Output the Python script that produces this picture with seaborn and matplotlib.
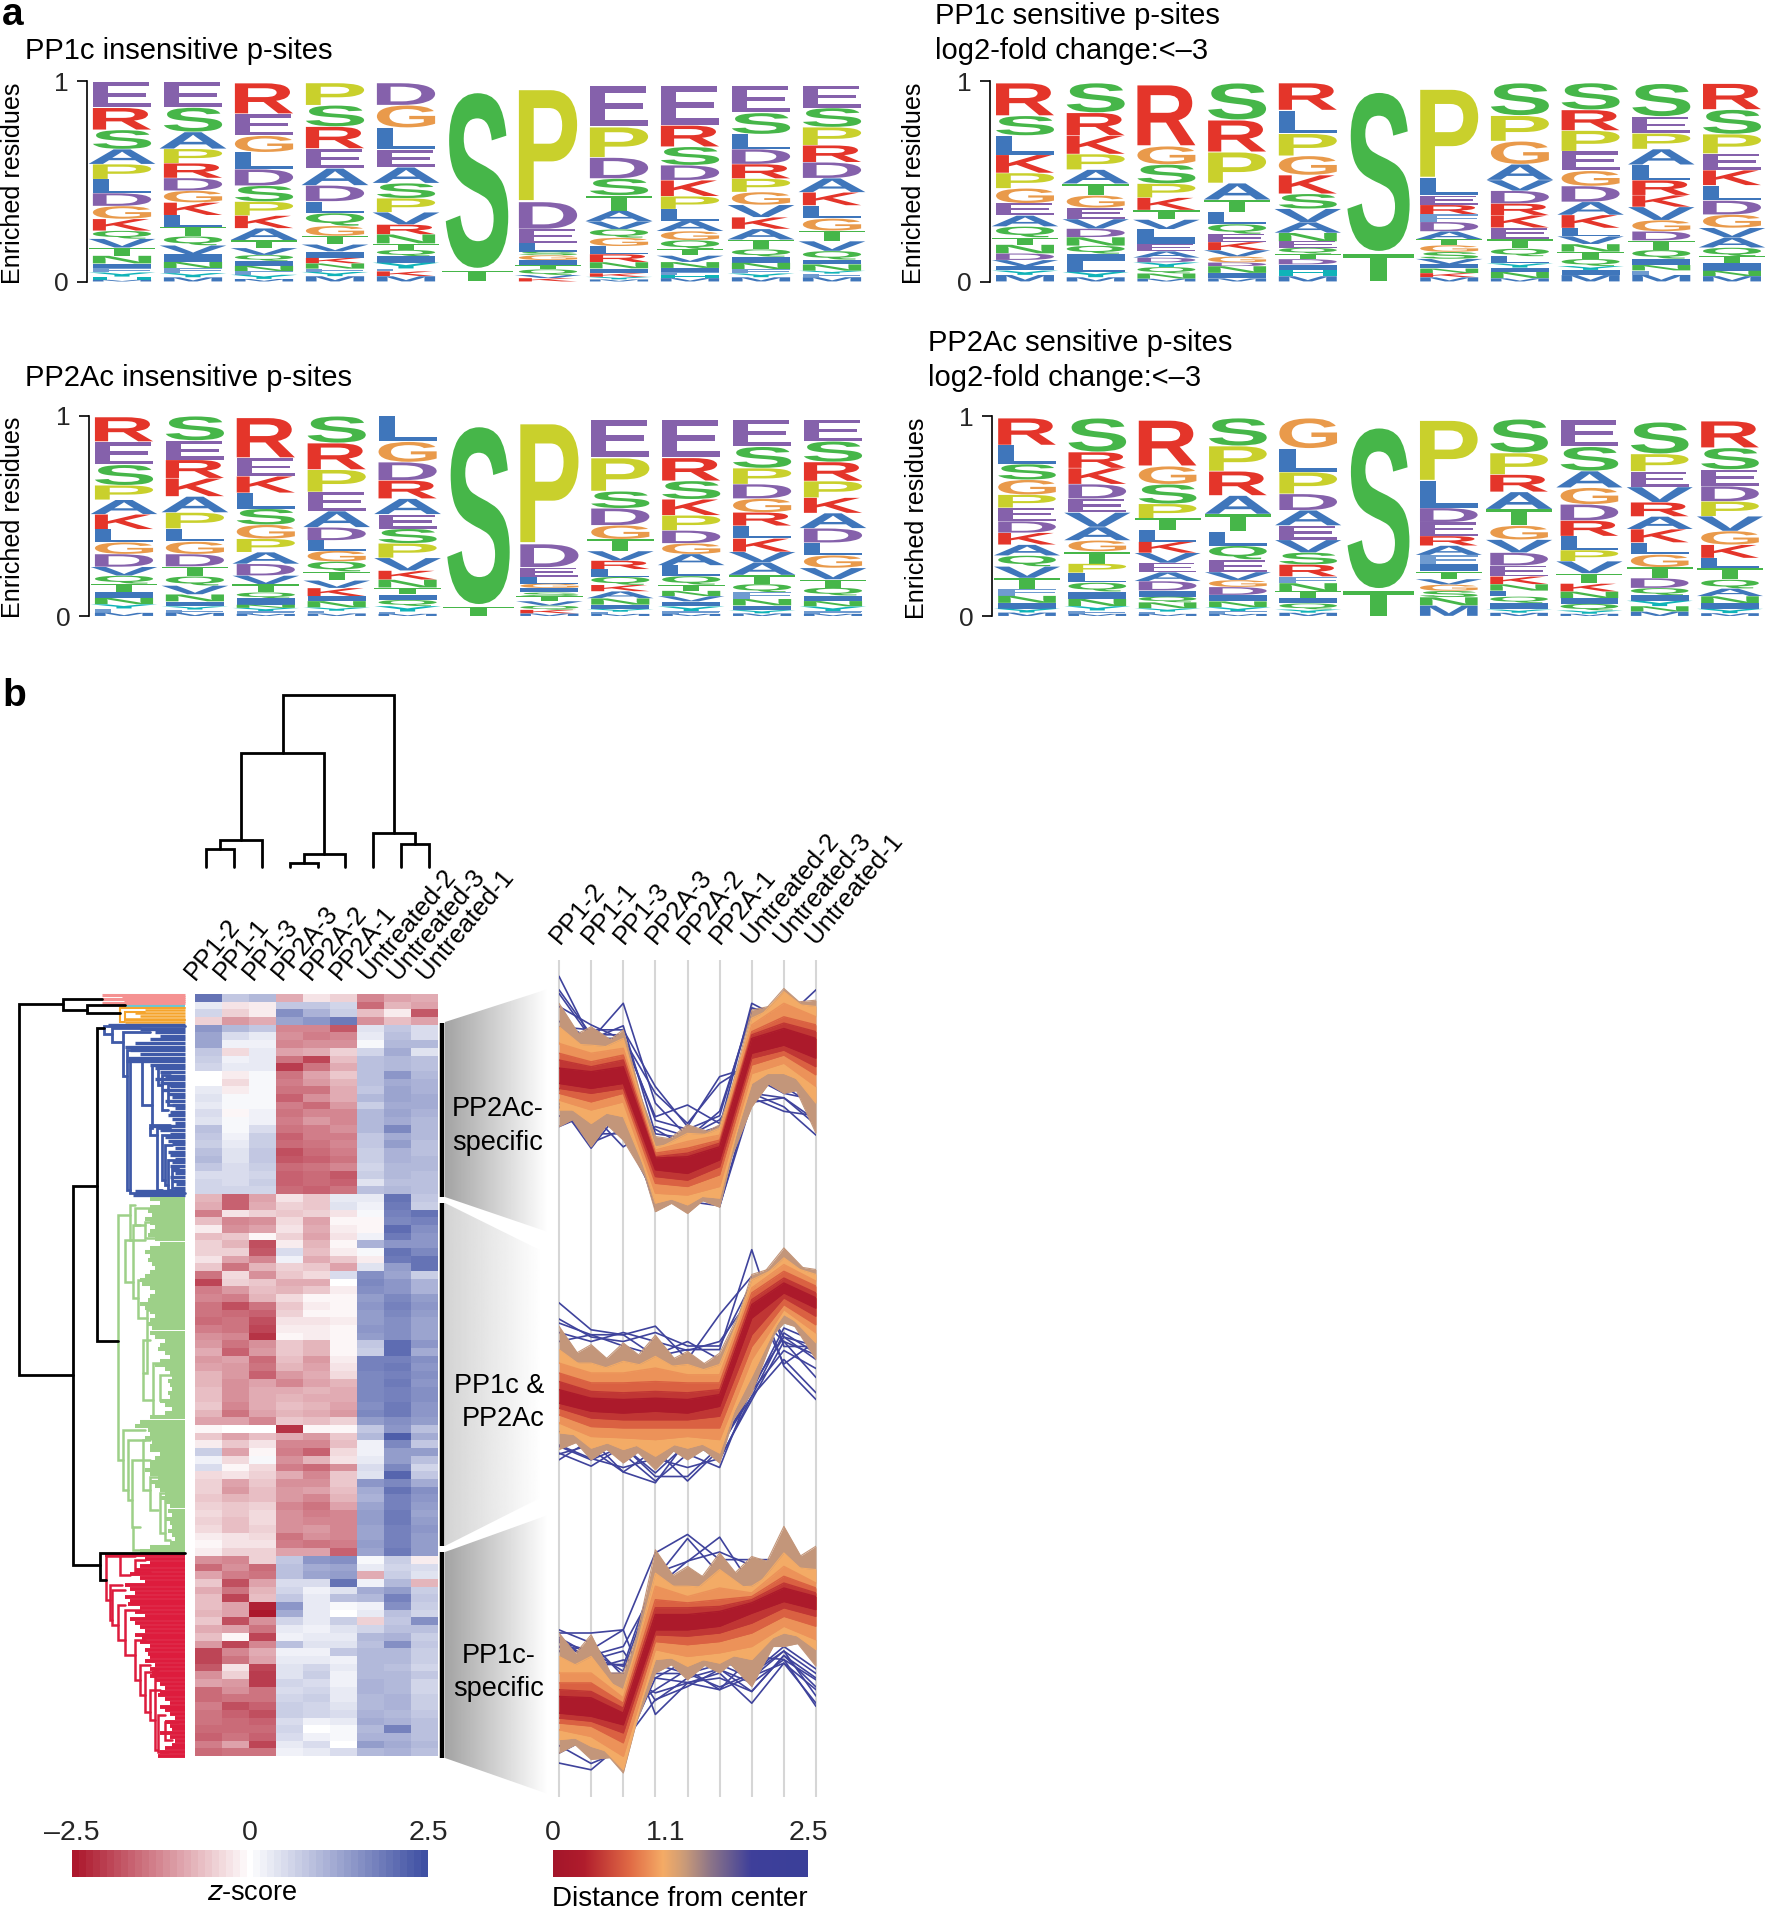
import numpy as np
import pandas as pd
import seaborn as sns
import matplotlib
matplotlib.use("Agg")
import matplotlib.pyplot as plt
from matplotlib.colors import LinearSegmentedColormap, Normalize
from matplotlib.cm import ScalarMappable
from matplotlib.font_manager import FontProperties
from matplotlib.patches import PathPatch, Polygon
from matplotlib.textpath import TextPath
from matplotlib.transforms import Affine2D

W, H = 1766, 1910

# ---- logo data: letters top to bottom, heights in percent of the stack
p1_letters = ["ERSAPLDGKQVTNIFYHM", "ESAPRDGKLTQVINFYM", "REGLDSPKATVQINFYM", "PSREADLQGTVIKNFYM",
              "DGLEASPVRNTQIYFKM", "ST", "PDELSGITQVK", "EPDSTAVQGLRNIKYM", "ERSDKPLAGQTVNIFHM",
              "ESLDRPGVKATQINFYM", "ESPRDAKLGTVQINYFM"]
p1_heights = [[12.1, 10.5, 9.1, 7.1, 7.1, 6.6, 6.1, 6.1, 5.6, 3.8, 4.2, 3.8, 3.7, 2.2, 2, 2, 1.5, 0.8],
              [12, 11.6, 8, 6.8, 7, 6, 5.6, 6, 5.5, 4.5, 4.3, 4.2, 3.6, 3, 2.3, 2, 2],
              [14.6, 10.3, 7.8, 8, 7.8, 7.5, 6.6, 6, 5.6, 3.7, 3.3, 2.8, 2.3, 2.5, 1.7, 2, 1.2],
              [10.5, 10, 10.3, 9.3, 8, 7.5, 5.5, 6, 4.7, 4, 3.3, 3, 2.6, 2.5, 1.5, 2, 2.5],
              [10.5, 10.6, 10.3, 8.3, 7.5, 7.1, 6.6, 5.8, 4.6, 4.3, 3, 3, 3, 2.8, 1.3, 2.3, 2.5],
              [90, 5.5],
              [54, 13, 6.6, 4.2, 1.7, 2.3, 2.2, 2.2, 2.7, 1.5, 1.6],
              [19.7, 14.5, 10, 8, 7.3, 5, 3.8, 4, 4, 3.8, 3.8, 3, 2.3, 1.7, 1.2, 1],
              [18.6, 10, 8.6, 7, 7.5, 6, 5.5, 4.8, 4.2, 4.2, 3, 3, 2.8, 2, 1.3, 1.4, 1.6],
              [12.8, 10, 7, 7, 6.8, 6.3, 6, 5.8, 5.5, 5, 4.5, 3.5, 2.8, 3, 2, 1.8, 2],
              [10.3, 8.8, 8.3, 7.8, 7.3, 6.5, 6, 6, 5.6, 4.8, 4.5, 4, 2.1, 3, 1.3, 1.6, 2]]

p2_letters = ["RSLKPGEAQTNDVIYM", "SRKPATGEVDNQILYM", "RGSPKTVLIEADYQNM", "SRPATLQEKVGDNIM",
              "RLPGKSVANEQTDIHM", "ST", "PLERFDATGSVINKM", "SPGAVDRKETQLYINM", "SRPEGDAKLVNTQYIM",
              "SEPALRKVGDTQINFM", "RSPEKLDGVAQTINM"]
p2_heights = [[15, 9, 8.8, 8.3, 7, 6.8, 5.6, 5, 5, 3.3, 4, 3, 2.8, 2, 2, 3],
              [14, 10.8, 8.6, 7.3, 6.6, 5.5, 5.8, 5.3, 4.5, 4, 4, 3.8, 3.5, 5, 2.5, 2],
              [29, 8.6, 9, 6.6, 5.8, 4.5, 4.5, 4.3, 2.8, 3.3, 3, 2.2, 2.2, 3, 2.5, 1.3],
              [17.4, 15, 14.6, 7.8, 5.8, 5.6, 4.6, 3.8, 3.8, 3, 2.8, 1.7, 3.2, 2.5, 1.5],
              [12.8, 11, 10.4, 9, 8.8, 7, 6.3, 5, 4, 3, 2.8, 2.5, 2.5, 2.5, 3, 2.5],
              [81, 14],
              [42.7, 8.3, 4.5, 4.5, 3.6, 4.5, 3.8, 2.8, 3.2, 3.3, 2.6, 2, 2.2, 2, 2],
              [15.3, 12, 10.8, 7.4, 5, 6, 5.5, 5.8, 5.3, 4.5, 3.6, 3.3, 2, 2, 3, 1.5],
              [12.4, 9.5, 9.5, 9, 7, 7.3, 6, 6, 3.8, 3.6, 3.5, 3.3, 3.3, 1.8, 2.3, 3],
              [15, 7.6, 7.1, 7.1, 7, 6.8, 5.3, 6, 5.1, 4.1, 4.3, 4, 2.8, 2.5, 2, 3],
              [12, 11.3, 9, 7.6, 7, 7, 6.5, 6.1, 4.5, 4.6, 4, 3, 3.6, 2.5, 2.5]]

p3_letters = ["RESPAKLGDVQTINYFM", "SERKAPLGDTQVNIYFM", "REKLSGPADVTQINYFM", "SRPEADLGQTVKINYFM",
              "LGDRAESPVKNTIQYFM", "ST", "PDELGISTVQKM", "EPSDGTVRLQKANIYFM", "ERSKPDGALQTNVIYFM",
              "ESPDGRLKVATQFNIYM", "ESRPKADLGVTQINYFM"]
p3_heights = [[11.6, 10.8, 9.6, 6.8, 6.8, 7, 6.1, 5.5, 6, 4.1, 3.8, 3.8, 2.8, 3, 2, 2, 1.5],
              [11.4, 9, 8.6, 8.5, 7.5, 7.5, 6.1, 5.8, 5.8, 4.6, 4.3, 4.1, 3.3, 2.3, 1.5, 1.5, 1.5],
              [19, 8.6, 7.8, 7.5, 7.5, 6.6, 6.3, 5.5, 5.5, 4.1, 3.8, 2.8, 3, 1.5, 1.5, 1.3, 1],
              [12.4, 12.3, 10.3, 8.8, 7.5, 6, 4.8, 5, 4.6, 4.1, 3.5, 3.8, 2.2, 3, 1.5, 1.2, 1.2],
              [11.6, 9.3, 8.3, 8.3, 7.1, 6.6, 6.6, 6.6, 5.8, 4.1, 3.6, 3.1, 2.5, 2.8, 2.5, 1, 1],
              [90.7, 4.6],
              [59, 11.4, 4.6, 3.3, 2.1, 2.2, 1.7, 2.5, 2.2, 2, 1.8, 1.2],
              [18, 15.7, 8, 8, 6.5, 5.6, 4.5, 4, 3.6, 3.8, 3, 3.3, 3, 2, 1.3, 1, 1],
              [17.9, 10.8, 8.6, 7.5, 7.1, 6, 5, 5.3, 5, 4.1, 2.8, 2.5, 2.5, 2.3, 2.2, 1.3, 1],
              [12.4, 9.8, 7.3, 6.6, 6.3, 6.1, 5.8, 6.1, 4.8, 5.8, 4.1, 3.8, 3, 3, 2.1, 1.5, 1.2],
              [10, 9.5, 8.8, 7.6, 7.1, 7, 6.6, 5.8, 5.8, 5.3, 3.8, 3.6, 2.5, 2.5, 2.2, 1.2, 1]]

p4_letters = ["RLSGPEDKAQVTFNIYM", "SRKDEVAGTPLQINYFM", "RGSPTLKVEADIQNYFM", "SPRATLQEVGDINYFM",
              "GLPDAEVSRFNTIQYM", "ST", "PLDERAFITVGSNM", "SPRATGVDEKNLQIYM", "ESAGDRLPVTKNIQYM",
              "SPEVRAKLGTDQIYNM", "RSEDPVGKLTQANIYM"]
p4_heights = [[12.5, 8.7, 7.2, 6.9, 6, 6.2, 5.3, 5.5, 5, 5, 5.3, 5.2, 3, 3.3, 2.6, 1.8, 1.6],
              [15.5, 7.3, 7.3, 6.6, 6.3, 6.6, 6.1, 5, 5.6, 4.1, 4.5, 4.1, 3.3, 3.3, 2, 1.5, 1],
              [21.2, 8.3, 9, 6.6, 5.5, 5.3, 5.1, 4.6, 4.3, 4.1, 4.3, 2.8, 2.6, 2.8, 1.5, 1, 1],
              [13.3, 12, 11.6, 8.8, 8.3, 6.8, 6.5, 6, 3.8, 3.3, 3.8, 3, 2.8, 2, 1.2, 1],
              [14, 10.8, 10, 7.5, 7, 6.6, 5.8, 5.5, 5.5, 3, 3.8, 3, 2.5, 2.8, 1.5, 1.5],
              [82.6, 12.8],
              [29, 13, 6.8, 6.6, 4.6, 4.5, 4.3, 3.6, 3.6, 2.6, 3, 3, 4, 5],
              [15.7, 10, 8, 8, 7.6, 6.5, 6, 6, 5, 3.6, 3, 2.7, 3, 3, 1.5, 1.5],
              [12, 11, 7.5, 7.5, 7.3, 7, 6.3, 5, 5.5, 4.6, 3.6, 3, 2.5, 3, 1.5, 1],
              [14.6, 8, 7.1, 7, 6.5, 5.8, 6.1, 5.5, 5.8, 5, 4.5, 3.3, 2.5, 2.5, 2.5, 2],
              [12.3, 10, 7.6, 7, 6.8, 6.8, 6.3, 6.1, 4.6, 5.3, 4.1, 3.5, 3.3, 2.5, 2, 1.3]]

# stack tops read against the 0-1 axis
p1_tops = [.997, .997, .993, .993, .993, .955, .965, .98, .98, .98, .98]
p2_tops = [.993, .993, .985, .993, .993, .955, .965, .993, .993, .99, .99]
p3_tops = [.993, .997, .99, .997, .997, .955, .965, .98, .98, .98, .98]
p4_tops = [.99, .99, .98, .99, .99, .95, .98, .985, .98, .97, .975]

residue_colors = {"E": "#8561AB", "D": "#8561AB", "R": "#E4352A", "K": "#E4352A",
                  "S": "#46B649", "T": "#46B649", "N": "#46B649", "Q": "#46B649",
                  "P": "#C9D02C", "G": "#E99A4B", "A": "#3F76BB", "L": "#3F76BB",
                  "V": "#3F76BB", "I": "#3F76BB", "F": "#6F9BD0", "M": "#3F76BB",
                  "Y": "#10B3B8", "H": "#10B3B8"}

# ---- heatmap data, z-score per sample, top row first
samples = ["PP1-2", "PP1-1", "PP1-3", "PP2A-3", "PP2A-2", "PP2A-1",
           "Untreated-2", "Untreated-3", "Untreated-1"]
heat_rows = [
    [2.0, 0.8, 1.0, -0.9, -0.3, -0.5, -1.3, -1.0, -0.9],
    [0.3, -0.3, -0.2, 0.8, 0.8, 0.6, -1.6, -0.8, -1.0],
    [0.6, -0.5, -0.2, 1.6, 1.1, 0.7, -0.7, -0.2, -1.8],
    [-0.5, -1.1, -0.9, 1.3, 1.5, 1.9, -1.2, -0.7, -1.0],
    # PP2Ac-specific
    [1.5, 1.0, 0.8, -1.3, -1.3, -1.8, 0.4, 0.8, 0.5],
    [1.3, 0.5, 0.3, -1.2, -1.4, -1.3, 0.3, 0.9, 0.5],
    [1.3, 0.2, 0.2, -1.3, -1.2, -1.2, 0.1, 1.0, 1.0],
    [0.8, -0.4, 0.3, -1.0, -0.9, -0.5, 0.6, 1.2, 0.4],
    [0.7, 0.2, 0.3, -1.5, -2.0, -0.7, 0.9, 1.0, 0.9],
    [0.6, 0.3, 0.3, -2.1, -1.5, -0.9, 0.9, 1.0, 0.9],
    [0.0, -0.2, 0.1, -1.5, -1.0, -0.6, 0.9, 1.5, 1.0],
    [0.0, -0.4, 0.1, -1.4, -1.1, -0.8, 0.9, 1.2, 1.1],
    [0.3, -0.2, 0.1, -1.5, -1.5, -0.9, 0.8, 1.3, 1.1],
    [0.4, 0.1, 0.1, -1.7, -1.2, -0.9, 1.0, 1.3, 1.2],
    [0.3, 0.1, 0.1, -1.4, -1.6, -1.1, 0.7, 1.2, 1.2],
    [0.5, -0.1, 0.2, -1.5, -1.3, -1.3, 1.0, 1.3, 1.1],
    [0.4, 0.1, 0.2, -1.4, -1.1, -1.3, 1.0, 1.2, 1.0],
    [0.9, 0.1, 0.5, -1.5, -1.4, -1.2, 1.0, 1.7, 1.0],
    [0.8, 0.2, 0.7, -1.7, -1.4, -1.4, 0.8, 1.2, 1.0],
    [0.7, 0.3, 0.7, -1.6, -1.5, -1.3, 0.8, 1.4, 0.9],
    [0.9, 0.4, 0.8, -1.9, -1.6, -1.4, 0.7, 1.1, 0.9],
    [1.0, 0.4, 0.8, -1.8, -1.7, -1.5, 0.7, 1.1, 1.0],
    [0.8, 0.5, 0.7, -1.6, -1.5, -1.3, 0.6, 1.0, 1.0],
    [0.5, 0.5, 0.6, -1.7, -1.6, -1.8, 0.7, 1.0, 0.9],
    [0.6, 0.5, 0.7, -1.7, -1.6, -1.7, 0.4, 0.9, 0.9],
    [0.6, 0.6, 0.6, -1.6, -1.7, -1.5, 0.9, 1.0, 0.9],
    # PP1c & PP2Ac
    [-0.8, -1.7, -1.0, -0.3, -0.6, 0.3, 0.3, 2.0, 0.8],
    [-0.9, -1.7, -0.9, -0.5, -0.6, 0.4, 0.2, 1.9, 0.7],
    [-1.4, -0.3, -0.5, -0.6, -0.5, -0.3, 0.1, 1.8, 2.0],
    [-0.7, -1.3, -1.2, -0.4, -1.0, -0.1, -0.1, 1.7, 1.8],
    [-0.2, -1.2, -1.0, -0.3, -0.9, -0.2, -0.1, 2.1, 1.6],
    [-0.7, -0.6, -0.1, -0.5, -1.0, -0.3, 0.2, 1.9, 1.5],
    [-0.5, -0.8, -1.9, -0.2, -0.8, -0.1, 1.1, 1.5, 1.5],
    [-0.5, -0.5, -1.8, 0.5, -0.7, -0.2, 0.1, 2.0, 1.7],
    [-0.3, -1.0, -1.3, 0.2, -0.9, -0.6, -0.2, 1.9, 2.0],
    [-0.6, -1.5, -0.8, -0.5, -0.6, -1.0, 0.4, 1.4, 2.0],
    [-1.5, -0.4, -1.2, -0.6, -0.4, 0.5, 1.6, 1.3, 0.7],
    [-2.0, -0.5, -0.6, -0.9, -0.9, 0.0, 1.7, 1.5, 1.1],
    [-1.4, -1.1, -0.7, -0.8, -0.6, -0.2, 1.6, 1.5, 1.1],
    [-1.3, -1.4, -0.8, -0.4, -0.1, -0.1, 1.4, 1.7, 1.4],
    [-1.5, -1.9, -1.5, -0.6, -0.2, -0.1, 1.5, 1.8, 1.5],
    [-1.5, -1.6, -1.7, -0.5, -0.1, -0.1, 1.4, 1.7, 1.4],
    [-1.6, -1.5, -1.9, -0.3, -0.3, -0.2, 1.4, 1.6, 1.3],
    [-1.4, -1.5, -2.0, -0.2, -0.2, -0.1, 1.5, 1.6, 1.3],
    [-1.2, -1.3, -2.2, -0.1, -0.2, -0.1, 1.4, 1.6, 1.3],
    [-1.1, -1.5, -1.2, -0.6, -0.8, -0.1, 0.8, 2.1, 1.5],
    [-0.9, -1.7, -1.1, -0.6, -0.8, -0.1, 0.7, 2.1, 1.2],
    [-1.1, -1.0, -1.6, -0.7, -1.1, -0.2, 1.8, 1.8, 1.6],
    [-1.0, -1.1, -1.5, -0.8, -1.0, -0.3, 1.8, 1.9, 1.5],
    [-0.8, -1.1, -1.7, -1.1, -0.9, -0.4, 1.7, 1.8, 1.6],
    [-0.8, -1.2, -1.0, -1.3, -1.0, -0.8, 1.7, 1.9, 1.5],
    [-0.7, -1.2, -0.9, -0.9, -0.8, -0.9, 1.7, 1.8, 1.6],
    [-0.7, -1.2, -0.9, -0.8, -0.9, -0.9, 1.7, 1.8, 1.6],
    [-0.6, -1.3, -0.9, -0.7, -0.8, -1.0, 1.6, 1.9, 1.5],
    [-0.8, -1.5, -1.0, -0.8, -0.9, -1.1, 1.7, 1.9, 1.5],
    [-1.0, -1.0, -1.3, -0.6, -0.7, -0.5, 1.4, 1.6, 1.4],
    [-0.1, 0.0, 0.0, -2.2, -0.1, -0.1, 0.8, 1.5, 0.9],
    [-0.6, -1.0, -0.7, -0.9, -1.1, -0.6, 1.0, 2.3, 1.2],
    [-0.2, -0.6, -0.3, -1.3, -1.3, -0.7, 0.2, 1.7, 0.8],
    [0.7, -1.0, -0.1, -1.4, -1.7, -0.4, 0.2, 1.4, 1.4],
    [0.2, -0.4, 0.1, -1.2, -0.8, -0.3, 0.3, 1.4, 0.9],
    [0.5, -0.1, -0.4, -1.4, -1.6, -1.2, 0.5, 1.7, 0.6],
    [-0.4, -0.3, -0.5, -0.9, -1.3, -0.6, 0.4, 2.2, 0.8],
    [-0.5, -1.0, -0.6, -1.2, -1.2, -0.6, 1.5, 1.7, 1.2],
    [-0.5, -1.1, -0.7, -1.1, -1.0, -0.7, 1.2, 2.0, 1.6],
    [-0.6, -0.8, -0.7, -1.1, -1.3, -0.8, 1.1, 1.8, 1.5],
    [-0.5, -0.6, -0.5, -1.3, -1.5, -1.0, 1.3, 1.8, 1.4],
    [-0.4, -0.6, -0.4, -1.2, -1.4, -1.3, 1.4, 1.9, 1.3],
    [-0.5, -0.7, -0.4, -1.2, -1.3, -1.3, 1.4, 1.9, 1.4],
    [-0.4, -0.7, -0.5, -1.2, -1.1, -1.3, 1.3, 1.8, 1.5],
    [-0.2, -0.3, -0.4, -1.5, -1.2, -1.3, 1.3, 1.8, 1.4],
    [-0.1, -0.3, -0.3, -1.4, -1.5, -1.4, 1.4, 1.8, 1.4],
    [-0.2, -0.5, -0.5, -1.0, -1.0, -1.7, 1.3, 1.9, 1.4],
    # PP1c-specific
    [-1.2, -1.3, -0.5, 0.8, 1.5, 1.6, 0.1, 0.7, -0.2],
    [-1.6, -1.2, -1.6, 0.9, 1.2, 1.3, 0.3, 0.6, 0.5],
    [-1.0, -1.4, -1.5, 0.9, 1.3, 1.4, -0.9, 0.7, 0.4],
    [-0.6, -1.9, -1.0, 0.5, 0.5, 2.0, 0.2, 1.0, -0.8],
    [-0.9, -1.5, -0.8, 0.6, 0.2, 0.4, 1.2, 1.4, 0.7],
    [-0.7, -2.0, -0.7, 0.8, 0.3, 0.9, 1.0, 1.8, 0.8],
    [-0.7, -1.0, -2.4, 1.5, 0.3, 0.1, 0.2, 1.6, 0.7],
    [-0.8, -1.0, -2.5, 1.2, 0.3, 0.0, 0.3, 0.9, 0.6],
    [-0.6, -1.9, -1.2, 0.6, 0.3, 0.7, -0.5, 0.8, 1.6],
    [-0.9, -1.0, -1.5, 0.3, 0.2, 0.4, 0.6, 0.9, 0.9],
    [-0.7, -0.1, -2.0, 0.2, 0.3, 0.3, 1.0, 1.1, 0.7],
    [-1.1, -2.0, -1.3, 0.9, 0.4, 0.4, 0.9, 1.6, 0.8],
    [-2.0, -1.3, -0.9, 0.2, 0.2, 0.8, 1.0, 1.0, 0.7],
    [-2.0, -1.5, -1.0, 0.3, 0.3, 0.2, 1.0, 1.0, 0.7],
    [-1.8, -0.3, -2.0, 0.4, 0.6, 0.3, 1.0, 0.9, 0.6],
    [-1.2, -0.5, -2.1, 0.4, 0.7, 0.2, 1.0, 1.0, 0.8],
    [-1.0, -1.1, -2.1, 0.6, 0.5, 0.2, 1.1, 1.0, 0.6],
    [-1.6, -1.2, -1.5, 0.5, 0.6, 0.3, 1.1, 1.0, 0.6],
    [-1.6, -1.5, -1.5, 0.6, 0.7, 0.3, 1.0, 1.1, 0.7],
    [-1.4, -1.9, -1.7, 0.7, 0.6, 0.4, 1.0, 1.1, 0.7],
    [-1.5, -1.7, -1.9, 0.7, 0.6, 0.5, 1.1, 1.0, 0.8],
    [-1.5, -1.6, -1.7, 0.5, 0.2, 0.3, 1.2, 1.1, 0.9],
    [-1.6, -1.6, -1.6, 0.6, 0.0, 0.1, 1.0, 1.8, 0.9],
    [-1.7, -1.5, -1.7, 0.5, 0.2, 0.1, 1.1, 1.1, 0.9],
    [-1.4, -1.0, -2.0, 0.3, 0.5, 0.0, 1.4, 1.2, 1.0],
    [-1.6, -1.5, -1.5, 0.2, 0.3, 0.5, 1.0, 1.1, 0.9],
]

# column dendrogram: left, right, merge height, left child height, right child height
col_links = [(0.5, 1.5, 18, 0, 0), (1.0, 2.5, 27, 18, 0), (3.5, 4.5, 4, 0, 0), (4.0, 5.5, 13, 4, 0),
             (1.75, 4.75, 114, 27, 13), (7.5, 8.5, 23, 0, 0), (6.5, 8.0, 34, 0, 23),
             (3.25, 7.25, 172, 114, 34)]

# row dendrogram: bracket x, y top, y bottom, x end of top arm, x end of bottom arm
black_links = [(19, 1004, 1375, 63, 73), (63, 999, 1010, 102, 87), (87, 1005, 1013, 125, 120),
               (73, 1186, 1565, 97, 100), (97, 1028, 1341, 104, 118), (100, 1553, 1580, 185, 106)]
blue_links = [(104, 1026, 1034, 185, 112), (112, 1028, 1042, 140, 123), (123, 1032, 1076, 150, 127),
              (127, 1050, 1190, 130, 130), (130, 1060, 1193, 142, 185), (142, 1058, 1105, 150, 152),
              (152, 1065, 1128, 158, 150), (158, 1068, 1085, 165, 162), (162, 1075, 1110, 170, 168),
              (168, 1085, 1105, 176, 172), (150, 1125, 1135, 170, 157), (157, 1128, 1190, 170, 162),
              (162, 1135, 1180, 170, 165), (165, 1145, 1185, 172, 168), (168, 1160, 1190, 176, 172),
              (172, 1168, 1188, 178, 178)]
green_links = [(118, 1215, 1460, 130, 123), (130, 1205, 1240, 135, 145), (135, 1208, 1225, 150, 145),
               (145, 1222, 1238, 155, 160), (125, 1240, 1282, 133, 133), (133, 1225, 1298, 140, 138),
               (138, 1280, 1318, 150, 147), (147, 1310, 1373, 155, 143), (143, 1340, 1400, 150, 153),
               (153, 1363, 1417, 160, 155), (160, 1375, 1400, 175, 170), (123, 1430, 1490, 145, 128),
               (128, 1440, 1500, 145, 132), (132, 1460, 1527, 150, 133), (133, 1527, 1550, 140, 150),
               (143, 1440, 1490, 150, 150), (150, 1477, 1510, 165, 158), (160, 1493, 1533, 172, 165),
               (165, 1500, 1540, 175, 170)]
red_links = [(106, 1556, 1600, 120, 110), (120, 1556, 1575, 135, 130), (135, 1560, 1572, 145, 150),
             (110, 1585, 1620, 122, 112), (112, 1590, 1625, 125, 118), (118, 1605, 1640, 125, 125),
             (125, 1610, 1655, 140, 135), (135, 1640, 1680, 145, 140), (140, 1665, 1695, 150, 145),
             (145, 1672, 1712, 155, 150), (150, 1690, 1720, 160, 155), (155, 1670, 1750, 158, 158),
             (158, 1715, 1752, 165, 168), (165, 1722, 1740, 178, 172)]
orange_links = [(120, 1008, 1022, 185, 125), (125, 1012, 1020, 145, 185)]

# row dendrogram leaves: where each leaf starts, evenly along the cluster
salmon_leaf_x = [102, 122, 102, 124, 102]
teal_leaf_x = [125, 125]
orange_leaf_x = [145, 135, 140, 125, 125]
blue_leaf_x = [108, 140, 155, 160, 150, 135, 125, 130, 140, 128, 126, 150, 155, 160, 165, 155, 160, 170,
               162, 168, 172, 165, 172, 175, 170, 168, 172, 175, 152, 160, 170, 165, 168, 172, 175, 168,
               170, 175, 172, 170, 172, 175, 170, 172, 176, 174, 135, 133]
green_leaf_x = [150, 160, 150, 148, 152, 145, 150, 155, 150, 148, 155, 160, 150, 145, 150, 148, 152, 155,
                150, 145, 140, 142, 150, 155, 150, 148, 140, 145, 150, 155, 150, 148, 152, 150, 155, 165,
                160, 158, 165, 170, 160, 155, 165, 170, 172, 168, 170, 172, 168, 170, 160, 165, 172, 165,
                150, 140, 135, 148, 150, 145, 152, 150, 150, 160, 155, 150, 150, 145, 150, 158, 150, 155,
                160, 165, 160, 165, 170, 168, 172, 165, 170, 172, 168, 172, 175, 170, 150, 140]
red_leaf_x = [105, 145, 150, 140, 135, 130, 140, 145, 125, 130, 135, 125, 130, 128, 140, 135, 145, 130,
              135, 140, 145, 135, 142, 140, 150, 145, 148, 150, 145, 155, 150, 152, 150, 155, 160, 165,
              160, 158, 165, 170, 160, 165, 170, 175, 165, 170, 172, 160, 170, 175, 172, 165, 160, 158]

col_pos = np.arange(9)
# parallel profiles: distance level of each envelope, outer to inner.
# the two outer envelopes are peaks reached at one column at a time, the others are solid bands
band_levels = [1.32, 1.08, 0.95, 0.7, 0.45, 0.22]

g1_upper = [[2.0, 1.48, 1.41, -0.96, -0.70, -0.70, 1.85, 2.33, 2.07],
            [1.48, 1.07, 1.22, -1.19, -0.89, -0.78, 1.67, 2.26, 1.93],
            [1.11, 0.89, 1.0, -1.26, -1.07, -0.93, 1.52, 2.0, 1.70],
            [0.89, 0.70, 0.85, -1.33, -1.22, -1.04, 1.37, 1.70, 1.52],
            [0.74, 0.59, 0.74, -1.41, -1.33, -1.11, 1.30, 1.56, 1.37],
            [0.56, 0.48, 0.59, -1.44, -1.41, -1.19, 1.22, 1.44, 1.22]]
g1_lower = [[-0.74, -1.19, -1.04, -2.63, -2.67, -2.53, -0.30, 0.0, -0.89],
            [-0.37, -0.67, -0.52, -2.44, -2.48, -2.33, 0.22, 0.44, -0.22],
            [-0.15, -0.37, -0.19, -2.22, -2.26, -2.07, 0.44, 0.67, 0.15],
            [0.0, -0.19, 0.0, -2.0, -2.07, -1.81, 0.63, 0.85, 0.41],
            [0.11, 0.0, 0.11, -1.85, -1.93, -1.63, 0.78, 0.96, 0.59],
            [0.22, 0.11, 0.22, -1.70, -1.78, -1.48, 0.89, 1.07, 0.78]]
g1_outliers = [[2.6, 1.19, 2.0, -0.22, -0.96, -0.74, 2.0, 1.63, 2.3],
               [1.93, 1.52, 1.19, -0.52, -0.26, -0.67, 1.04, 0.15, -0.3],
               [-0.22, -1.22, -0.3, -2.55, -1.48, -2.52, 0, -0.3, -0.93],
               [-0.74, -0.44, -1.19, -0.74, -0.96, -0.59, 0.37, 0, -0.15],
               [2.22, 1.22, 1.22, 0, -0.67, 0.22, 0.67, 0.04, 0.41],
               [1.48, 1.41, 1.41, 0.15, -0.74, 0.37, 0.59, 0.22, 0],
               [2.3, 1.3, 1.3, -0.6, -0.8, -0.5, 1.9, 1.7, 1.7],
               [1.6, 1.2, 1.5, -0.9, -1.0, -0.4, 1.8, 1.6, 1.8],
               [-0.5, -0.8, -0.6, -0.8, -1.2, -0.9, -0.1, -0.4, -0.5],
               [-0.3, -1.1, -0.8, -1.1, -1.6, -1.0, 0.0, -0.1, -0.6],
               [0.1, -0.9, -0.9, -2.3, -2.4, -2.5, -0.2, -0.1, -0.7]]

g2_upper = [[1.24, 0.83, 0.87, 1.04, 0.68, 0.64, 2.39, 2.98, 2.5],
            [0.72, 0.42, 0.46, 0.57, 0.39, 0.39, 2.27, 2.76, 2.39],
            [0.42, 0.2, 0.2, 0.31, 0.16, 0.16, 2.09, 2.61, 2.24],
            [0.2, -0.02, -0.02, 0.01, -0.02, -0.02, 1.98, 2.46, 2.13],
            [0.01, -0.21, -0.24, -0.21, -0.24, -0.17, 1.83, 2.31, 1.98],
            [-0.17, -0.36, -0.39, -0.36, -0.39, -0.28, 1.72, 2.2, 1.87]]
g2_lower = [[-1.5, -1.73, -1.8, -1.95, -1.73, -1.8, -0.24, 1.31, 0.5],
            [-1.13, -1.47, -1.5, -1.65, -1.47, -1.58, 0.13, 1.5, 0.87],
            [-0.91, -1.21, -1.24, -1.28, -1.21, -1.28, 0.5, 1.61, 1.09],
            [-0.73, -0.99, -1.02, -1.02, -1.02, -1.02, 0.79, 1.72, 1.27],
            [-0.58, -0.8, -0.84, -0.84, -0.84, -0.76, 1.05, 1.87, 1.46],
            [-0.47, -0.65, -0.69, -0.65, -0.69, -0.54, 1.42, 1.98, 1.64]]
g2_outliers = [[1.76, 1.16, 1.05, 1.24, 0.5, 1.5, 2.35, 0.35, -0.39],
               [1.31, 1.05, 1.05, 0.57, 0.72, 0.72, 2.94, 0.79, 0.79],
               [-1.58, -1.87, -1.43, -2.02, -1.36, -1.43, -0.2, 1.2, 0.9],
               [-1.73, -1.28, -2.0, -2.24, -1.28, -1.73, -0.32, 1.09, 0.64],
               [-1.43, -1.73, -1.43, -2.1, -2.1, -1.43, -0.32, 0.5, -0.24],
               [1.4, 1.0, 0.9, 1.1, 0.8, 0.8, 2.2, 1.0, 0.8],
               [1.1, 0.9, 1.1, 0.9, 0.7, 0.9, 1.9, 0.4, 0.9],
               [0.9, 1.05, 0.8, 0.6, 0.9, 0.5, 1.6, 0.9, 0.6],
               [-1.4, -1.7, -1.9, -1.7, -1.9, -1.7, -0.4, 0.9, 0.1],
               [-1.1, -1.5, -2.0, -1.5, -2.2, -1.5, -0.2, 0.7, 0.3],
               [-1.6, -1.4, -1.6, -2.2, -1.6, -1.9, -0.1, 1.0, 0.5]]

g3_upper = [[0, -0.04, -0.89, 1.85, 1.48, 1.78, 1.7, 2.37, 1.93],
            [-0.52, -0.52, -1.26, 1.33, 1.04, 1.41, 1.04, 1.78, 1.41],
            [-0.89, -0.89, -1.44, 1.04, 0.81, 1.0, 0.89, 1.48, 1.11],
            [-1.11, -1.11, -1.56, 0.74, 0.67, 0.74, 0.81, 1.26, 1.0],
            [-1.26, -1.3, -1.67, 0.56, 0.56, 0.59, 0.74, 1.11, 0.89],
            [-1.41, -1.44, -1.78, 0.41, 0.41, 0.48, 0.67, 1.0, 0.81]]
g3_lower = [[-2.67, -2.81, -3.11, -0.89, -1.04, -0.89, -1.19, -0.3, -0.74],
            [-2.37, -2.52, -3.04, -0.59, -0.74, -0.67, -0.59, 0, -0.37],
            [-2.15, -2.3, -2.74, -0.37, -0.52, -0.44, -0.3, 0.15, -0.15],
            [-2, -2.07, -2.44, -0.19, -0.26, -0.19, 0, 0.37, 0.15],
            [-1.89, -1.96, -2.22, -0.04, -0.07, 0, 0.22, 0.56, 0.37],
            [-1.78, -1.85, -2.04, 0.07, 0.07, 0.15, 0.44, 0.7, 0.52]]
g3_outliers = [[0.07, -0.22, -0.96, -1.33, -1.11, -1.26, -0.52, -0.59, -1.63],
               [-0.3, -0.37, 0.07, -1.81, -1.11, -0.89, -1.56, -0.67, -1.26],
               [0, 0, 0.07, 1.78, 2.19, 1.63, 1.63, 1.63, 1.41],
               [-0.15, -0.59, -0.74, 1.33, 1.59, 2.13, 1.04, 1.78, 1.48],
               [-2.89, -3.04, -2.44, -1.48, -1.19, -0.81, -1.11, -0.59, -1.04],
               [-2.67, -2.3, -1.78, -1.26, -0.81, -1.26, -0.96, -0.67, -1.56],
               [-0.2, -0.4, -0.85, 1.2, 2.1, 1.3, 1.2, 1.5, 1.5],
               [-0.1, -0.5, -0.3, 1.0, 1.6, 1.8, 1.5, 1.5, 1.3],
               [-0.4, -0.8, -0.6, -0.7, -0.9, -1.2, -0.9, -0.4, -0.9],
               [-0.2, -0.6, -0.4, -1.5, -1.0, -0.8, -1.3, -0.5, -1.2],
               [-0.3, -0.9, -0.9, -0.9, -0.9, -0.7, -1.0, -0.4, -1.4],
               [-0.4, -0.7, -0.7, -1.0, -0.6, -0.6, -0.9, -0.3, -0.8],
               [-2.5, -2.9, -2.6, -1.0, -1.1, -1.0, -1.3, -0.5, -1.0]]

sns.set_theme(style="white")
plt.rcParams["font.family"] = ["Liberation Sans", "DejaVu Sans"]
plt.rcParams["text.color"] = "black"

fig = plt.figure(figsize=(W / 100, H / 100), dpi=100, facecolor="white")


def px_axes(x0, y0, x1, y1, **kw):
    # axes from picture pixels, y counted from the top
    ax = fig.add_axes([x0 / W, 1 - y1 / H, (x1 - x0) / W, (y1 - y0) / H], **kw)
    ax.patch.set_alpha(0)
    return ax


def label(x, y, s, size=19, **kw):
    kw.setdefault("va", "center")
    fig.text(x / W, 1 - y / H, s, fontsize=size, **kw)


letter_font = FontProperties(family="Liberation Sans", weight="bold")


def draw_logo(ax, letters, heights, tops):
    for i, (col, hs, top) in enumerate(zip(letters, heights, tops)):
        scale = top / sum(hs)
        y = top
        for ch, h in zip(col, hs):
            h = h * scale
            y -= h
            w = 0.94 if ch in "AVTY" else 0.82
            if len(col) == 2:
                w = 0.88 if ch == "S" else 1.0
            tp = TextPath((0, 0), ch, size=1, prop=letter_font)
            bb = tp.get_extents()
            t = (Affine2D().translate(-bb.x0, -bb.y0)
                 .scale(w / bb.width, h * 0.97 / bb.height)
                 .translate(i + 1 - w / 2, y + h * 0.015))
            ax.add_patch(PathPatch(tp.transformed(t), fc=residue_colors[ch], lw=0, clip_on=False))
    ax.set_xlim(0.5, 11.5)
    ax.set_ylim(0, 1)
    ax.set_xticks([])
    ax.set_yticks([0, 1], ["0", "1"], fontsize=19)
    ax.tick_params(axis="y", length=7, width=1.2, color="black", left=True, pad=6)
    sns.despine(ax=ax, bottom=True)
    ax.spines["left"].set_color("black")
    ax.spines["left"].set_linewidth(1.2)


panels = [(p1_letters, p1_heights, p1_tops, 122.0, 832.0, 81.5, 281.5, 13),
          (p2_letters, p2_heights, p2_tops, 1025.0, 1732.0, 81.5, 281.5, 914),
          (p3_letters, p3_heights, p3_tops, 124.0, 833.0, 415.5, 616, 13),
          (p4_letters, p4_heights, p4_tops, 1027.0, 1730.0, 416, 616, 917)]
for letters, heights, tops, c0, c1, y1, y0, ylab in panels:
    step = (c1 - c0) / 10
    ax = px_axes(c0 - step / 2, y1, c1 + step / 2, y0)
    draw_logo(ax, letters, heights, tops)
    label(ylab, (y0 + y1) / 2 + 2, "Enriched residues", size=18.1, rotation=90, ha="center")

label(25, 51, "PP1c insensitive p-sites", size=21)
label(935, 16, "PP1c sensitive p-sites", size=21)
label(935, 51, "log2-fold change:<\u20133", size=21)
label(25, 378, "PP2Ac insensitive p-sites", size=21)
label(928, 343, "PP2Ac sensitive p-sites", size=21)
label(928, 378, "log2-fold change:<\u20133", size=21)
fig.text(2 / W, 1 - 25 / H, "a", fontsize=28, fontweight="bold", va="baseline")
fig.text(2 / W, 1 - 706 / H, "b", fontsize=28, fontweight="bold", va="baseline")

# ---- background layer for panel b, picture pixels
ax_bg = px_axes(0, 0, W, H)
ax_bg.set_axis_off()

wedges = [([(445, 1022), (548, 989), (548, 1232), (445, 1197)], 0.64),
          ([(445, 1203), (540, 1250), (542, 1497), (445, 1546)], 0.83),
          ([(445, 1552), (548, 1515), (548, 1794), (445, 1758)], 0.64)]
for pts, grey in wedges:
    xs = [p[0] for p in pts]
    ys = [p[1] for p in pts]
    im = ax_bg.imshow(np.linspace(grey, 1, 128)[None, :], cmap="gray", vmin=0, vmax=1, aspect="auto",
                      extent=(min(xs), max(xs), max(ys), min(ys)))
    poly = Polygon(pts, closed=True, transform=ax_bg.transData, fc="none", ec="none")
    ax_bg.add_patch(poly)
    im.set_clip_path(poly)

for y0, y1 in [(1023, 1197), (1203, 1546), (1552, 1758)]:
    ax_bg.plot([442, 442], [y0, y1], color="black", lw=3.2, solid_capstyle="butt")


def draw_links(links, color, lw=1.5):
    for x, y0, y1, x0, x1 in links:
        ax_bg.plot([x0, x, x, x1], [y0, y0, y1, y1], color=color, lw=lw, solid_joinstyle="miter")


def draw_leaves(starts, y0, y1, color, lw=1.5):
    ys = np.linspace(y0, y1, len(starts))
    ax_bg.hlines(ys, starts, 185, color=color, lw=lw)


draw_leaves(salmon_leaf_x, 995, 1003, "#F59292", lw=2.2)
draw_leaves(teal_leaf_x, 1005.5, 1007, "#6BC6D4", lw=1.5)
draw_leaves(orange_leaf_x, 1010, 1022, "#F5A42C", lw=1.8)
draw_links(orange_links, "#F5A42C")
draw_leaves(blue_leaf_x, 1025, 1195, "#3F5AA8", lw=2.4)
draw_links(blue_links, "#3F5AA8", lw=2)
draw_leaves(green_leaf_x, 1199, 1551, "#9DD088", lw=2.9)
draw_links(green_links, "#9DD088", lw=1.8)
draw_leaves(red_leaf_x, 1555, 1756, "#DD1C3D", lw=2.8)
draw_links(red_links, "#DD1C3D", lw=1.8)
draw_links(black_links, "black", lw=2)
ax_bg.set_xlim(0, W)
ax_bg.set_ylim(H, 0)

# ---- heatmap
heat_cmap = LinearSegmentedColormap.from_list("zscore", ["#AC172C", "#FFFFFF", "#3F50A3"], N=51)
heat_df = pd.DataFrame(heat_rows, columns=samples)
ax_heat = px_axes(195, 994, 438, 1756)
sns.heatmap(heat_df, ax=ax_heat, cmap=heat_cmap, vmin=-2.5, vmax=2.5, cbar=False,
            xticklabels=False, yticklabels=False)

# ---- column dendrogram, same leaf order as the heatmap
ax_cd = px_axes(192, 695, 443, 867)
for x0, x1, h, h0, h1 in col_links:
    ax_cd.plot([x0, x0, x1, x1], [h0, h, h, h1], color="black", lw=2, solid_joinstyle="miter", clip_on=False)
ax_cd.set_xlim(0, 9)
ax_cd.set_ylim(0, 172)
ax_cd.set_axis_off()

for i, name in enumerate(samples):
    label(195 + i * 29, 981, name, size=18.5, rotation=50, rotation_mode="anchor", ha="left", va="baseline")
    label(560 + i * 32, 945, name, size=18.5, rotation=50, rotation_mode="anchor", ha="left", va="baseline")

label(498, 1109, "PP2Ac-", size=19.5, ha="center")
label(498, 1143, "specific", size=19.5, ha="center")
label(544, 1386, "PP1c &", size=19.5, ha="right")
label(544, 1419, "PP2Ac", size=19.5, ha="right")
label(499, 1656, "PP1c-", size=19.5, ha="center")
label(499, 1689, "specific", size=19.5, ha="center")

# ---- parallel coordinates
dist_cmap = LinearSegmentedColormap.from_list(
    "distance", [(0, "#A3152A"), (0.12, "#B01C2C"), (0.3, "#E06A45"), (0.43, "#F4AB66"),
                 (0.52, "#C99A78"), (0.62, "#8C7488"), (0.78, "#3E3F9A"), (1, "#3A3F99")])

ax_par = px_axes(559, 960, 816, 1797)
ax_par.vlines(col_pos, 0, 1, color="#D6D6D6", lw=1.5, clip_on=False)
ax_par.set_xlim(0, 8)
ax_par.set_ylim(0, 1)
ax_par.set_axis_off()


def draw_peaks(ax, peak, base, color):
    # every peak leaves the band at one column and comes back at the next
    peak = np.array(peak, dtype=float)
    base = np.array(base, dtype=float)
    for i in col_pos:
        line = base.copy()
        line[i] = peak[i]
        ax.fill_between(col_pos, base, line, color=color, lw=0, zorder=3)
        sns.lineplot(x=col_pos, y=line, ax=ax, color=color, lw=0.8, estimator=None, legend=False, zorder=3)


def draw_profiles(z0_px, upper, lower, outliers):
    ax = px_axes(559, z0_px - 170, 816, z0_px + 170)
    for line in outliers:
        sns.lineplot(x=col_pos, y=line, ax=ax, color="#3F439C", lw=1.2, estimator=None, legend=False, zorder=1)
    for k in (0, 1):
        color = dist_cmap(band_levels[k] / 2.5)
        draw_peaks(ax, upper[k], upper[2], color)
        draw_peaks(ax, lower[k], lower[2], color)
    for lev, up, lo in zip(band_levels[2:], upper[2:], lower[2:]):
        color = dist_cmap(lev / 2.5)
        ax.fill_between(col_pos, lo, up, color=color, lw=0, zorder=3)
        sns.lineplot(x=col_pos, y=up, ax=ax, color=color, lw=1, estimator=None, legend=False, zorder=3)
        sns.lineplot(x=col_pos, y=lo, ax=ax, color=color, lw=1, estimator=None, legend=False, zorder=3)
    ax.set_xlim(0, 8)
    ax.set_ylim(-170 / 45, 170 / 45)
    ax.set_axis_off()


draw_profiles(1093.3, g1_upper, g1_lower, g1_outliers)
draw_profiles(1382, g2_upper, g2_lower, g2_outliers)
draw_profiles(1633, g3_upper, g3_lower, g3_outliers)

# ---- colour bars
cax1 = px_axes(72, 1850, 428, 1877)
cb1 = fig.colorbar(ScalarMappable(Normalize(-2.5, 2.5), heat_cmap), cax=cax1, orientation="horizontal")
cb1.set_ticks([-2.5, 0, 2.5], labels=["\u20132.5", "0", "2.5"], fontsize=20.5)
cb1.ax.xaxis.set_ticks_position("top")
cb1.ax.tick_params(length=0, pad=3)
cb1.outline.set_visible(False)
label(252, 1893, r"$\mathit{z}$-score", size=19.5, ha="center")

cax2 = px_axes(553, 1850, 808, 1877)
cb2 = fig.colorbar(ScalarMappable(Normalize(0, 2.5), dist_cmap), cax=cax2, orientation="horizontal")
cb2.set_ticks([0, 1.1, 2.5], labels=["0", "1.1", "2.5"], fontsize=20.5)
cb2.ax.xaxis.set_ticks_position("top")
cb2.ax.tick_params(length=0, pad=3)
cb2.outline.set_visible(False)
label(680, 1899, "Distance from center", size=20, ha="center")

fig.savefig("out.png", dpi=100, facecolor="white")
